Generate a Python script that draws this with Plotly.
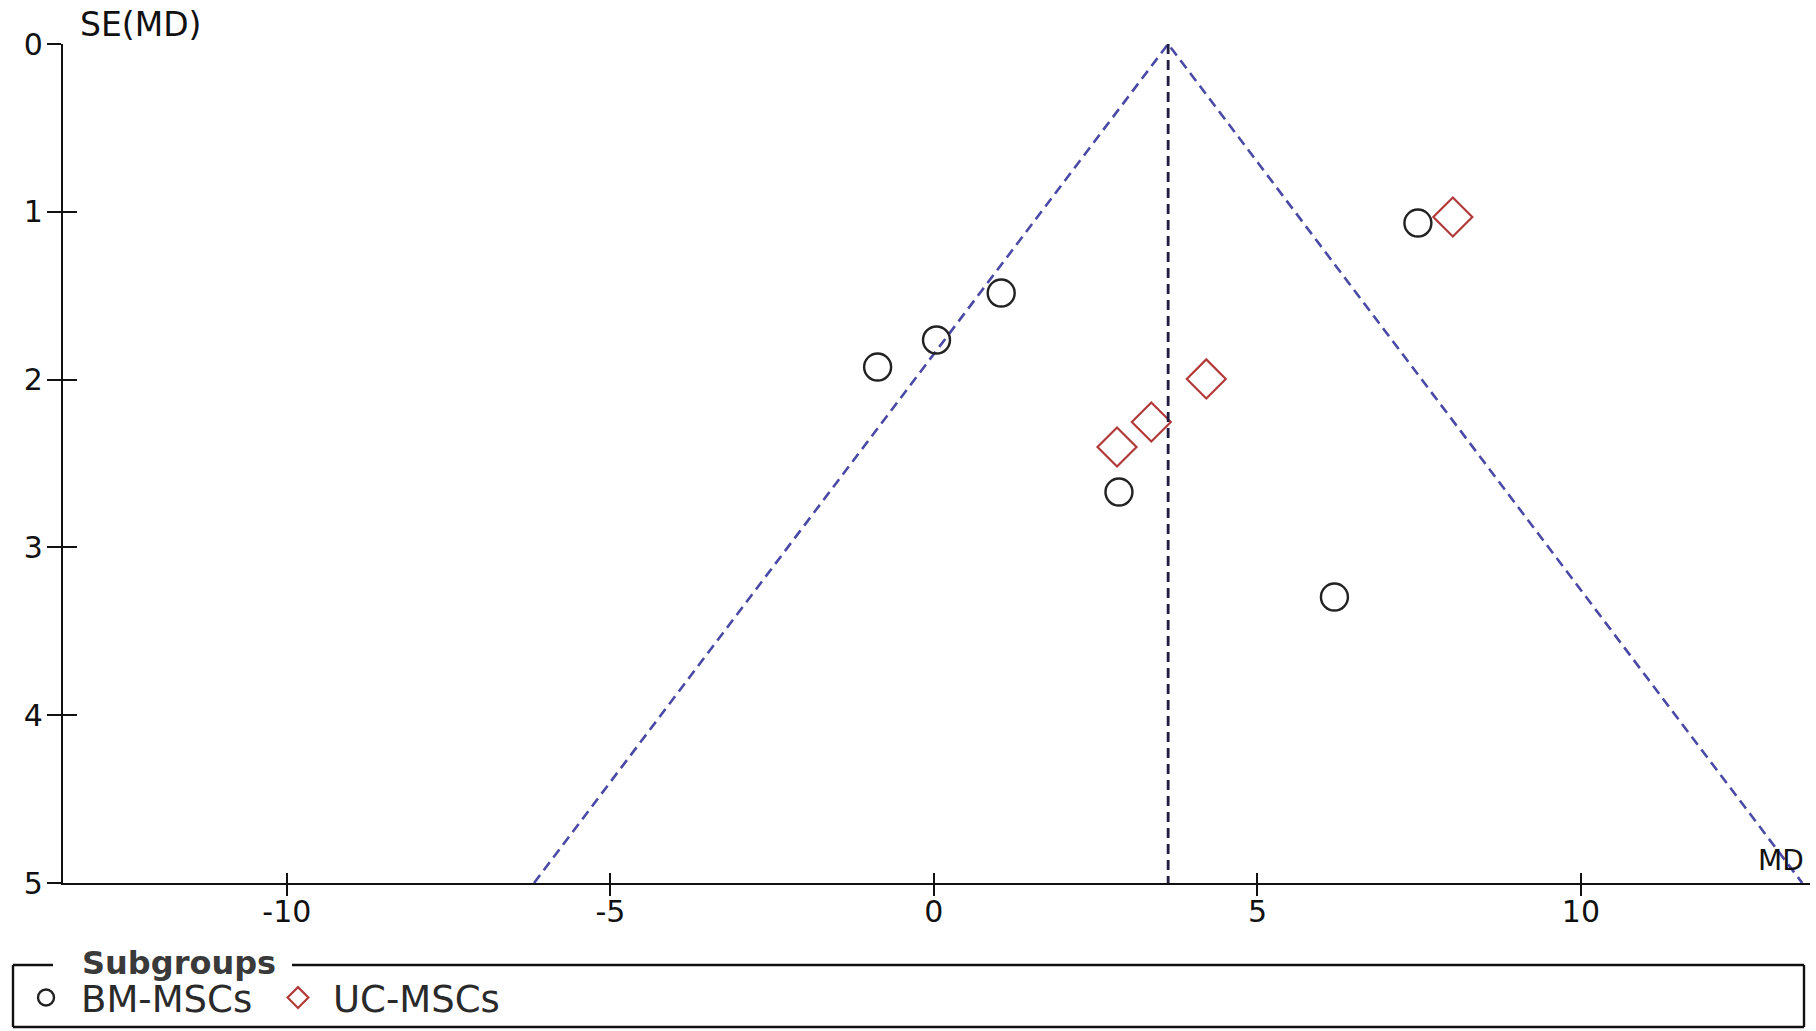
import plotly.graph_objects as go

# ---- data ----
bm_md = [7.48, 1.04, 0.04, -0.87, 2.86, 6.19]
bm_se = [1.067, 1.484, 1.764, 1.925, 2.670, 3.296]
uc_md = [8.02, 4.21, 3.36, 2.83]
uc_se = [1.031, 1.996, 2.253, 2.402]
pooled_md = [3.62, 3.62]
pooled_se = [0, 5]
funnel_md = [-6.18, 3.62, 13.42]
funnel_se = [5, 0, 5]
x_ticks = [-10, -5, 0, 5, 10]
x_tick_labels = ["-10", "-5", "0", "5", "10"]
y_ticks = [0, 1, 2, 3, 4, 5]
y_tick_labels = ["0", "1", "2", "3", "4", "5"]
x_range = [-13.46, 13.54]
y_range = [5, 0]

W, H = 1816, 1031
ML, MR, MT, MB = 63, 6, 44, 148
PW, PH = W - ML - MR, H - MT - MB

def px_x(p):
    return (p - ML) / PW

def px_y(p):
    return (H - MB - p) / PH

FONT = "DejaVu Sans"

fig = go.Figure()

fig.add_trace(go.Scatter(
    x=funnel_md, y=funnel_se, mode="lines", showlegend=False, hoverinfo="skip",
    line=dict(color="#4a4aa6", width=2.6, dash="10px,6px"),
))
fig.add_trace(go.Scatter(
    x=pooled_md, y=pooled_se, mode="lines", showlegend=False, hoverinfo="skip",
    xaxis="x2", yaxis="y2",
    line=dict(color="#1e1e40", width=2.8, dash="10px,6px"),
))
fig.add_trace(go.Scatter(
    x=bm_md, y=bm_se, mode="markers", name="BM-MSCs",
    marker=dict(symbol="circle-open", size=27, color="#222222", line=dict(width=2.4, color="#222222")),
))
fig.add_trace(go.Scatter(
    x=uc_md, y=uc_se, mode="markers", name="UC-MSCs",
    marker=dict(symbol="diamond-open", size=30, color="#b23a3a", line=dict(width=2.2, color="#b23a3a")),
))

axis_common = dict(showgrid=False, zeroline=False)

fig.update_layout(
    width=W, height=H,
    margin=dict(l=ML, r=MR, t=MT, b=MB, pad=0, autoexpand=False),
    paper_bgcolor="white", plot_bgcolor="white",
    font=dict(family=FONT, color="#111111", size=28),
    xaxis=dict(
        **axis_common, range=x_range, domain=[0, 1], anchor="y",
        showline=True, linecolor="#111111", linewidth=2.4,
        ticks="outside", ticklen=11, tickwidth=2.4, tickcolor="#111111",
        tickvals=x_ticks, ticktext=x_tick_labels, ticklabelstandoff=-10,
        tickfont=dict(family=FONT, size=30, color="#111111"),
    ),
    xaxis2=dict(
        **axis_common, range=x_range, overlaying="x", anchor="y", side="bottom",
        showline=False, ticks="inside", ticklen=10, tickwidth=2.4, tickcolor="#111111",
        tickvals=x_ticks, showticklabels=False,
    ),
    yaxis=dict(
        **axis_common, range=y_range, domain=[0, 1], anchor="x",
        showline=True, linecolor="#111111", linewidth=2.4,
        ticks="outside", ticklen=14, tickwidth=2.4, tickcolor="#111111",
        tickvals=y_ticks, ticktext=y_tick_labels, ticklabelstandoff=-2,
        tickfont=dict(family=FONT, size=30, color="#111111"),
    ),
    yaxis2=dict(
        **axis_common, range=y_range, overlaying="y", anchor="x", side="left",
        showline=False, ticks="inside", ticklen=14, tickwidth=2.4, tickcolor="#111111",
        tickvals=y_ticks, showticklabels=False,
    ),
    showlegend=True,
    legend=dict(
        orientation="h", x=px_x(11), y=px_y(967), xanchor="left", yanchor="top",
        bgcolor="rgba(0,0,0,0)", borderwidth=0,
        font=dict(family=FONT, size=37, color="#2a2a2a"),
        itemwidth=60, tracegroupgap=0, itemclick=False,
        entrywidth=177, entrywidthmode="pixels",
    ),
)

# legend frame with a gap for the title
box_l, box_r, box_t, box_b = 13, 1804, 965, 1027
frame_segments = [
    (box_l, box_t, 53, box_t),
    (292, box_t, box_r, box_t),
    (box_l, box_t, box_l, box_b),
    (box_r, box_t, box_r, box_b),
    (box_l, box_b, box_r, box_b),
]
for x0, y0, x1, y1 in frame_segments:
    fig.add_shape(type="line", xref="paper", yref="paper",
                  x0=px_x(x0), y0=px_y(y0), x1=px_x(x1), y1=px_y(y1),
                  line=dict(color="#111111", width=2.4))

fig.add_annotation(text="<b>Subgroups</b>", xref="paper", yref="paper",
                   x=px_x(80), y=px_y(963), xanchor="left", yanchor="middle",
                   showarrow=False, font=dict(family=FONT, size=32, color="#3a3a3a"))
fig.add_annotation(text="SE(MD)", xref="paper", yref="paper",
                   x=px_x(78), y=px_y(25), xanchor="left", yanchor="middle",
                   showarrow=False, font=dict(family=FONT, size=33, color="#111111"))
fig.add_annotation(text="MD", xref="paper", yref="paper",
                   x=px_x(1806), y=px_y(860), xanchor="right", yanchor="middle",
                   showarrow=False, font=dict(family=FONT, size=28, color="#111111"))

fig.write_html(
    "out.html",
    config={"displayModeBar": False},
    post_script="document.body.style.margin='0';document.body.style.overflow='hidden';",
)
